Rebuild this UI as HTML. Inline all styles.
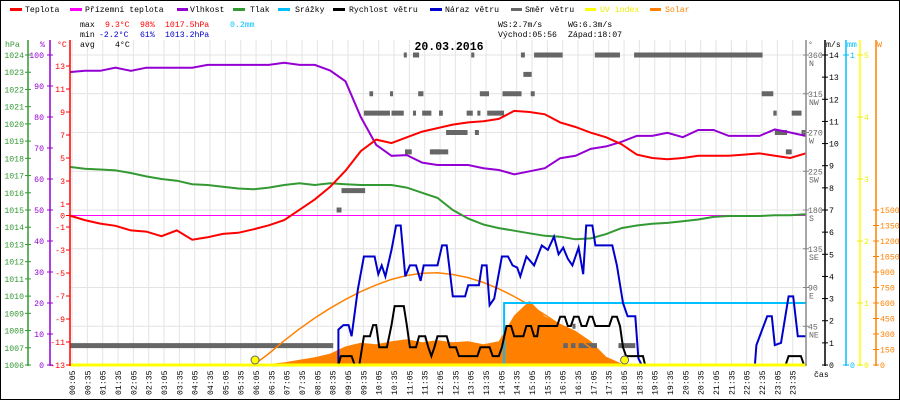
<!DOCTYPE html>
<html><head><meta charset="utf-8">
<style>
html,body{margin:0;padding:0;background:#fff;}
#wrap{position:relative;width:900px;height:400px;overflow:hidden;}
svg text{font-family:"Liberation Mono",monospace;}
</style></head>
<body>
<div id="wrap">
<svg id="chart" width="900" height="400" viewBox="0 0 900 400" xmlns="http://www.w3.org/2000/svg">
<rect x="0.5" y="0.5" width="899" height="399" fill="#fff" stroke="#000"/>
<g id="grid"></g>
<g id="marks"></g>
<g id="axes"></g>
<g id="legend" font-size="8.2">
 <g><rect x="10" y="8" width="12" height="3" fill="#f00"/><text x="25" y="12">Teplota</text></g>
 <g><rect x="70" y="8" width="12" height="3" fill="#f0f"/><text x="85" y="12">Přízemní teplota</text></g>
 <g><rect x="177" y="8" width="11" height="3" fill="#9400d3"/><text x="190" y="12">Vlhkost</text></g>
 <g><rect x="233" y="8" width="12" height="3" fill="#339933"/><text x="250" y="12">Tlak</text></g>
 <g><rect x="278" y="8" width="12" height="3" fill="#00bfff"/><text x="295" y="12">Srážky</text></g>
 <g><rect x="333" y="8" width="12" height="3" fill="#000"/><text x="349" y="12">Rychlost větru</text></g>
 <g><rect x="430" y="8" width="12" height="3" fill="#0000cc"/><text x="445" y="12">Náraz větru</text></g>
 <g><rect x="511" y="8" width="11" height="3" fill="#666"/><text x="525" y="12">Směr větru</text></g>
 <g><rect x="585" y="8" width="11" height="3" fill="#ff0"/><text x="600" y="12" fill="#ee0">UV index</text></g>
 <g><rect x="650" y="8" width="11" height="3" fill="#ff8000"/><text x="665" y="12" fill="#ff8000">Solar</text></g>
</g>
<g id="stats" font-size="8.2">
 <text x="80" y="27">max</text>
 <text x="105" y="27" fill="#f00">9.3°C</text>
 <text x="140" y="27" fill="#f00">98%</text>
 <text x="165" y="27" fill="#f00">1017.5hPa</text>
 <text x="230" y="27" fill="#00bfff">0.2mm</text>
 <text x="80" y="37">min</text>
 <text x="99" y="37" fill="#00c">-2.2°C</text>
 <text x="140" y="37" fill="#00c">61%</text>
 <text x="165" y="37" fill="#00c">1013.2hPa</text>
 <text x="80" y="47">avg</text>
 <text x="115" y="47">4°C</text>
 <text x="498" y="27">WS:2.7m/s</text>
 <text x="568" y="27">WG:6.3m/s</text>
 <text x="498" y="37">Východ:05:56</text>
 <text x="568" y="37">Západ:18:07</text>
 <text x="449" y="50" font-size="11.5" font-weight="bold" text-anchor="middle">20.03.2016</text>
</g>
</svg>
</div>
<script>
// ---- data ----
const halfHours = [0,0.5,1,1.5,2,2.5,3,3.5,4,4.5,5,5.5,6,6.5,7,7.5,8,8.5,9,9.5,10,10.5,11,11.5,12,12.5,13,13.5,14,14.5,15,15.5,16,16.5,17,17.5,18,18.5,19,19.5,20,20.5,21,21.5,22,22.5,23,23.5,24];
const temperature = [0,-0.4,-0.7,-0.9,-1.3,-1.4,-1.8,-1.3,-2.1,-1.9,-1.6,-1.5,-1.2,-0.85,-0.4,0.5,1.4,2.5,3.9,5.6,6.6,6.3,6.8,7.3,7.6,7.9,8.1,8.2,8.4,9.1,9.0,8.8,8.1,7.7,7.2,6.8,6.2,5.3,5.0,4.9,5.0,5.2,5.2,5.2,5.3,5.4,5.2,5.0,5.4];
const humidity = [94.5,94.9,94.9,95.9,94.9,95.9,95.9,95.9,95.9,96.8,96.8,96.8,96.8,96.8,97.5,96.8,96.8,95,91.5,80,71,67.5,67.7,65.3,64.5,64.5,64.5,63.5,62.9,61.5,62.5,63.5,66.7,67.5,69.7,70.5,72,73.9,73.9,74.9,73.5,75.8,75.8,73.9,73.9,73.9,76,75,73.9];
const pressure = [1017.5,1017.4,1017.35,1017.3,1017.15,1016.95,1016.8,1016.7,1016.5,1016.45,1016.35,1016.25,1016.2,1016.3,1016.45,1016.55,1016.45,1016.55,1016.5,1016.45,1016.45,1016.45,1016.3,1016.0,1015.7,1015.0,1014.5,1014.15,1013.95,1013.8,1013.65,1013.5,1013.45,1013.3,1013.35,1013.6,1013.95,1014.1,1014.2,1014.25,1014.35,1014.45,1014.6,1014.65,1014.65,1014.65,1014.7,1014.7,1014.75];
const solar = [0,0,0,0,0,0,0,0,0,0,0,0,0,10,25,50,75,110,180,215,200,230,250,220,240,220,230,200,230,480,620,470,400,330,230,80,15,0,0,0,0,0,0,0,0,0,0,0,0];
const solarTheoretical = [0,0,0,0,0,0,0,0,0,0,0,0,0,110,235,350,455,550,635,710,775,828,866,888,892,876,846,798,737,663,580,487,387,277,164,48,0,0,0,0,0,0,0,0,0];
const gustTimes = [0,8.77,8.77,8.93,9.1,9.2,9.4,9.6,9.95,10.07,10.18,10.3,10.5,10.65,10.8,10.95,11.1,11.3,11.45,11.55,12.0,12.15,12.3,12.5,12.9,13.0,13.35,13.45,13.6,13.7,13.85,14.1,14.3,14.45,14.6,14.7,14.9,15.15,15.4,15.6,15.8,15.95,16.1,16.25,16.4,16.6,16.75,16.85,17.05,17.15,17.7,17.85,18.05,18.2,18.45,18.55,18.66,22.35,22.4,22.75,22.9,23.0,23.2,23.45,23.6,23.75,24];
const gustValues = [0,0,1.6,1.8,1.8,1.3,3.4,4.9,4.9,4.1,4.5,4.0,5.2,6.3,6.3,4.0,4.5,4.5,3.8,4.5,4.5,5.4,5.4,3.1,3.1,3.6,3.6,4.5,4.5,2.7,3.0,4.9,4.9,4.5,4.4,4.0,4.9,4.5,5.4,5.2,5.8,5.0,5.3,4.8,4.5,5.3,4.1,6.3,6.3,5.4,5.4,4.5,2.8,2.2,2.2,0.3,0,0,0.9,2.2,2.2,0.9,1.0,3.1,3.1,1.3,1.3];
const speedTimes = [0,8.77,8.85,9.2,9.3,9.45,9.6,9.8,9.9,10.0,10.1,10.35,10.5,10.6,10.9,11.0,11.1,11.3,11.4,11.6,11.7,11.8,11.9,12.0,12.3,12.4,12.6,12.7,13.3,13.4,13.7,13.8,14.0,14.1,14.25,14.4,14.5,14.8,14.9,15.05,15.15,15.25,15.3,15.9,16.0,16.15,16.25,16.35,16.45,16.6,16.7,16.85,16.95,17.05,17.15,17.6,17.7,17.85,17.95,18.05,18.15,18.7,18.77,23.35,23.45,23.85,23.95,24];
const speedValues = [0,0,0.4,0.4,0,0,1.3,1.3,1.8,1.8,0.8,0.8,1.8,2.66,2.66,1.8,0.8,0.8,1.3,1.3,0.8,0.4,0.8,1.3,1.3,0.8,0.8,0.4,0.4,0.8,0.8,0.4,0.4,0.8,1.76,1.76,1.3,1.3,1.76,1.76,1.3,1.3,1.76,1.76,2.18,2.18,1.76,1.76,2.18,2.18,1.76,1.76,2.18,2.18,1.76,1.76,2.18,2.18,1.76,0.8,0.4,0.4,0,0,0.4,0.4,0,0];
const dirStart = [0.02,8.71,8.87,9.6,10.5,11.2,11.5,12.05,9.78,10.45,11.37,10.9,11.2,10.94,11.8,13.1,14.72,15.15,17.13,18.41,14.8,13.38,14.12,15.04,22.57,12.06,12.95,13.3,13.62,22.95,23.55,12.28,13.22,23.0,23.87,11.75,23.36,16.1,16.35,16.6,17.9,16.4];
const dirEnd   = [8.6,8.87,9.64,10.45,10.9,11.3,11.8,12.17,9.9,10.55,11.54,11.0,11.4,11.16,12.35,13.2,14.85,16.08,17.95,22.6,15.07,13.68,14.74,15.17,22.95,12.17,13.15,13.4,14.17,23.06,23.87,12.98,13.35,23.4,24,12.08,23.55,16.25,16.5,17.2,18.45,16.5];
const dirDeg   = [22.5,180,202.5,292.5,292.5,292.5,292.5,292.5,315,315,315,360,360,247.5,247.5,360,360,360,360,360,337.5,315,315,315,315,292.5,292.5,292.5,292.5,292.5,292.5,270,270,270,270,247.5,247.5,22.5,22.5,22.5,22.5,45];
const rainTimes = [0,14.17,14.17,24];
const rainValues = [0,0,0.2,0.2];
const sunEvents = [6.05,18.1];
const hPaTicks = [1006,1007,1008,1009,1010,1011,1012,1013,1014,1015,1016,1017,1018,1019,1020,1021,1022,1023,1024];
const humTicks = [0,10,20,30,40,50,60,70,80,90,100];
const tempTicks = [-13,-11,-9,-7,-5,-3,-1,0,1,3,5,7,9,11,13];
const dirTicks = [45,90,135,180,225,270,315,360];
const dirNames = ['NE','E','SE','S','SW','W','NW','N'];
const windTicks = [0,1,2,3,4,5,6,7,8,9,10,11,12,13,14];
const uvTicks = [0,1,2,3,4,5];
const solarTicks = [0,150,300,450,600,750,900,1050,1200,1350,1500];

// ---- scales ----
const X = h => 69.5 + h * 30.667;
const yT = t => 215.5 - t * 11.5;
const yH = p => 365 - p * 3.1;
const yP = p => 365 - (p - 1006) * 17.222;
const yW = v => 365 - v * 22.143;
const yS = w => 365 - w * 0.10333;
const yD = d => 365 - d * 0.8611;
const yR = m => 365 - m * 310;
const yU = u => 365 - u * 62;

const NS = 'http://www.w3.org/2000/svg';
function mk(parent, tag, attrs, txt) {
  const e = document.createElementNS(NS, tag);
  for (const k in attrs) e.setAttribute(k, attrs[k]);
  if (txt !== undefined) e.textContent = txt;
  parent.appendChild(e);
  return e;
}
const grid = document.getElementById('grid');
const marks = document.getElementById('marks');
const axes = document.getElementById('axes');

for (let i = 0; i < 48; i++) {
  const x = X(5/60 + i * 0.5);
  const g = mk(grid, 'line', {x1:x, x2:x, y1:40, y2:365, stroke:'#e4e4e4', 'stroke-width':1});
  
  
}
for (let i = 0; i < 8; i++) {
  const y = 55 + i * 38.75;
  const g = mk(grid, 'line', {x1:70, x2:806, y1:y, y2:y, stroke:'#e4e4e4', 'stroke-width':1});
  
  
}

function pts(ts, vs, fy) { return ts.map((t, i) => X(t).toFixed(1) + ',' + fy(vs[i]).toFixed(1)).join(' '); }

let sp = pts(halfHours, solar, yS);
let solarArea = mk(marks, 'polygon', {points: X(0)+',365 ' + sp + ' ' + X(24) + ',365', fill:'#ff8000'});



let zl = mk(marks, 'line', {x1:70, x2:806, y1:yT(0), y2:yT(0), stroke:'#f0f', 'stroke-width':1});



for (let i = 0; i < dirDeg.length; i++) {
  const r = mk(marks, 'rect', {x:X(dirStart[i]), y:yD(dirDeg[i]) - 2.5, width:Math.max(2, X(dirEnd[i]) - X(dirStart[i])), height:5, fill:'#666'});
  
  
}

let st = mk(marks, 'polyline', {points: pts(halfHours.slice(0, solarTheoretical.length), solarTheoretical, yS), fill:'none', stroke:'#ff8000', 'stroke-width':1.5});



let pl = mk(marks, 'polyline', {points: pts(halfHours, pressure, yP), fill:'none', stroke:'#339933', 'stroke-width':2});


let hl = mk(marks, 'polyline', {points: pts(halfHours, humidity, yH), fill:'none', stroke:'#9400d3', 'stroke-width':2});


let tl = mk(marks, 'polyline', {points: pts(halfHours, temperature, yT), fill:'none', stroke:'#f00', 'stroke-width':2});



let rl = mk(marks, 'polyline', {points: pts(rainTimes, rainValues, yR), fill:'none', stroke:'#00bfff', 'stroke-width':2});



let gl = mk(marks, 'polyline', {points: pts(gustTimes, gustValues, yW), fill:'none', stroke:'#0000cc', 'stroke-width':2});


let wl = mk(marks, 'polyline', {points: pts(speedTimes, speedValues, yW), fill:'none', stroke:'#000', 'stroke-width':2});



let uv = mk(marks, 'line', {x1:70, x2:806, y1:yU(0), y2:yU(0), stroke:'#ff0', 'stroke-width':3});


for (const s of sunEvents) {
  const c = mk(marks, 'circle', {cx:X(s), cy:360, r:4, fill:'#ff0', stroke:'#666', 'stroke-width':1});
  
  
}

function vAxis(x, color, name) {
  const l = mk(axes, 'line', {x1:x, x2:x, y1:40, y2:366, stroke:color, 'stroke-width':1.5});
  
  
}
vAxis(28, '#339933', 'pressure-axis');
vAxis(50, '#9400d3', 'humidity-axis');
vAxis(70, '#f00', 'temperature-axis');
vAxis(806, '#888', 'wind-direction-axis');
vAxis(825, '#000', 'wind-speed-axis');
vAxis(846, '#00bfff', 'rain-axis');
vAxis(860, '#ff0', 'uv-axis');
vAxis(876, '#ff8000', 'solar-axis');

function ticks(arr, fy, x0, x1, tx, anchor, color, name) {
  for (const v of arr) {
    const y = fy(v);
    const l = mk(axes, 'line', {x1:x0, x2:x1, y1:y, y2:y, stroke:color, 'stroke-width':1});
    
    
    const t = mk(axes, 'text', {x:tx, y:y + 3, 'font-size':8.2, fill:color, 'text-anchor':anchor}, String(v));
    
    
  }
}
ticks(hPaTicks, yP, 25, 31, 24, 'end', '#339933', 'pressure');
ticks(humTicks, yH, 47, 53, 44, 'end', '#9400d3', 'humidity');
ticks(tempTicks, yT, 66, 70, 65, 'end', '#f00', 'temperature');
ticks(windTicks, yW, 822, 828, 829, 'start', '#000', 'wind-speed');
ticks(uvTicks, yU, 857, 863, 864, 'start', '#ee0', 'uv');
ticks(solarTicks, yS, 873, 879, 880, 'start', '#ff8000', 'solar');
[[0,'0'],[1,'1']].forEach(([v, s]) => {
  const y = yR(v);
  const l = mk(axes, 'line', {x1:843, x2:849, y1:y, y2:y, stroke:'#00bfff'});
  
  
  const t = mk(axes, 'text', {x:850, y:y + 3, 'font-size':8.2, fill:'#00bfff'}, s);
  
  
});
dirTicks.forEach((d, i) => {
  const y = yD(d);
  const l = mk(axes, 'line', {x1:803, x2:809, y1:y, y2:y, stroke:'#888'});
  
  
  const t = mk(axes, 'text', {x:808, y:y + 3, 'font-size':8.2, fill:'#666'}, String(d));
  
  
  const n = mk(axes, 'text', {x:809, y:y + 11, 'font-size':8.2, fill:'#666'}, dirNames[i]);
  
  
});
[['hPa',5,'#339933'],['%',40,'#9400d3'],['°C',57,'#f00'],['°',808,'#666'],['m/s',826,'#000'],['mm',847,'#00bfff'],['W',877,'#ff8000']].forEach(([s, x, c]) => {
  const t = mk(axes, 'text', {x:x, y:47, 'font-size':8.2, fill:c}, s);
  
  
});
for (let i = 0; i < 48; i++) {
  const h = 5/60 + i * 0.5;
  const hh = Math.floor(h), mm = Math.round((h - hh) * 60);
  const s = String(hh).padStart(2, '0') + ':' + String(mm).padStart(2, '0');
  const x = X(h) + 3;
  const t = mk(axes, 'text', {x:x, y:395, 'font-size':8.2, transform:'rotate(-90 ' + x + ' 395)'}, s);
  
  
}
const cas = mk(axes, 'text', {x:814, y:377, 'font-size':8.2}, 'čas');


</script>
</body></html>
